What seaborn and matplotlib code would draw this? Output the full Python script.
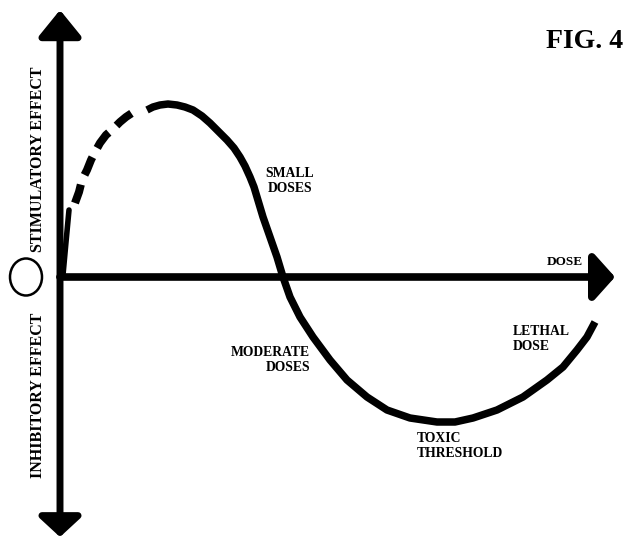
import matplotlib
matplotlib.use("Agg")
import matplotlib.pyplot as plt
import seaborn as sns
from matplotlib.patches import Ellipse

# ---- data (dose vs effect, arbitrary units) ----
rise_dose = [3, 6, 9]
rise_effect = [2, 35, 67]

dash_dose = [15, 19, 22, 27, 31, 35, 40, 46, 53, 60, 66, 72]
dash_effect = [74, 85, 97, 107, 117, 125, 134, 142, 148, 155, 160, 164]

main_dose = [87, 93, 100, 108, 117, 125, 133, 142, 150, 158, 167, 174, 180, 185, 190,
             194, 197, 200, 203, 210, 217, 223, 230, 240, 253, 270, 287, 307, 327, 350,
             377, 395, 413, 437, 463, 487, 503, 517, 527, 535]
main_effect = [167, 170, 172, 173, 172, 170, 167, 161, 154, 146, 137, 129, 120, 111, 100,
               90, 80, 70, 60, 40, 20, 0, -20, -40, -60, -83, -103, -120, -133, -141,
               -145, -145, -141, -133, -120, -103, -90, -73, -60, -45]

labels = {
    "SMALL\nDOSES": (230, 96),
    "MODERATE\nDOSES": (250, -83),
    "LETHAL\nDOSE": (453, -62),
    "TOXIC\nTHRESHOLD": (357, -169),
}
axis_x_label = "DOSE"
y_pos_label = "STIMULATORY EFFECT"
y_neg_label = "INHIBITORY EFFECT"
fig_label = "FIG. 4"

# ---- drawing ----
sns.set_theme(style="white")
plt.rcParams["font.family"] = ["Liberation Serif", "DejaVu Serif"]

fig = plt.figure(figsize=(6.27, 5.38), dpi=100)
ax = fig.add_axes([0, 0, 1, 1])
ax.set_xlim(-60, 567)
ax.set_ylim(-261, 277)
ax.axis("off")

# axes with arrows
axis_kw = dict(color="black", lw=5, shrinkA=0, shrinkB=0)
ax.annotate("", xy=(0, 267), xytext=(0, 0),
            arrowprops=dict(arrowstyle="-|>,head_length=1.6,head_width=1.3",
                            mutation_scale=10, **axis_kw))
ax.annotate("", xy=(0, -260), xytext=(0, 0),
            arrowprops=dict(arrowstyle="-|>,head_length=1.2,head_width=1.3",
                            mutation_scale=10, **axis_kw))
ax.annotate("", xy=(555, 0), xytext=(0, 0),
            arrowprops=dict(arrowstyle="-|>,head_length=1.3,head_width=1.45",
                            mutation_scale=10, color="black", lw=5.5,
                            shrinkA=0, shrinkB=0))

# curve
sns.lineplot(x=rise_dose, y=rise_effect, sort=False, color="black", lw=4.0, ax=ax,
             estimator=None)
sns.lineplot(x=dash_dose, y=dash_effect, sort=False, color="black", lw=5.8, ax=ax,
             estimator=None, linestyle=(0, (2.4, 1.3)))
sns.lineplot(x=main_dose, y=main_effect, sort=False, color="black", lw=5.4, ax=ax,
             estimator=None, solid_joinstyle="round", solid_capstyle="butt")

# zero-marker circle
ax.add_patch(Ellipse((-34, 0), 32, 37, fill=False, lw=1.8, color="black"))

bold = dict(fontweight="bold", color="black")
ax.text(525, 236, fig_label, fontsize=20, ha="center", va="center", **bold)
ax.text(-22, 118, y_pos_label, fontsize=11.5, rotation=90, ha="center", va="center", **bold)
ax.text(-22, -118, y_neg_label, fontsize=11.5, rotation=90, ha="center", va="center", **bold)
ax.text(505, 15, axis_x_label, fontsize=9.5, ha="center", va="center", **bold)

aligns = {"SMALL\nDOSES": ("center", "center"),
          "MODERATE\nDOSES": ("right", "right"),
          "LETHAL\nDOSE": ("left", "left"),
          "TOXIC\nTHRESHOLD": ("left", "left")}
for txt, (x, y) in labels.items():
    ha, ma = aligns[txt]
    ax.text(x, y, txt, fontsize=9.8, ha=ha, va="center", multialignment=ma,
            linespacing=1.15, **bold)

fig.savefig("out.png", dpi=100, facecolor="white")
